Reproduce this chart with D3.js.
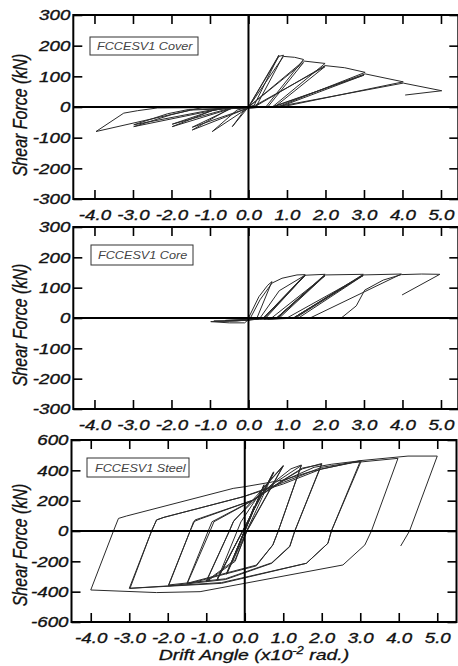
<!DOCTYPE html>
<html>
<head>
<meta charset="utf-8">
<script src="https://cdn.jsdelivr.net/npm/d3@7"></script>
<style>
  body { margin: 0; background: #fff; }
  svg { display: block; }
  text { font-family: "Liberation Sans", Arial, sans-serif; font-style: italic; }
</style>
</head>
<body>
<svg width="458" height="666"></svg>
<script>
// drift ticks and labels (x10^-2 rad.)
const driftTicks = [-4, -3, -2, -1, 0, 1, 2, 3, 4, 5];
const driftLabels = ["-4.0", "-3.0", "-2.0", "-1.0", "0.0", "1.0", "2.0", "3.0", "4.0", "5.0"];

// shear ticks (kN)
const shearTicksSmall = [-300, -200, -100, 0, 100, 200, 300];
const shearLabelsSmall = ["-300", "-200", "-100", "0", "100", "200", "300"];
const shearTicksLarge = [-600, -400, -200, 0, 200, 400, 600];
const shearLabelsLarge = ["-600", "-400", "-200", "0", "200", "400", "600"];

const panelNames = ["FCCESV1 Cover", "FCCESV1 Core", "FCCESV1 Steel"];

// [drift, shear], in loading order
const coverLoop = [
  [0, 0], [0.79, 169], [0.15, 6], [0, 0], [-0.42, -64], [-0.08, -6], [0, 0],
  [0.79, 165], [0.91, 169], [0.2, 2], [0, -2], [-0.94, -80], [-0.3, -10], [0, -1],
  [0.91, 165], [1.2, 162], [1.43, 155], [0.45, 0], [0, -3], [-1.46, -75], [-0.5, -6], [-0.1, -2], [0, 0],
  [1.43, 145], [0.5, 0], [0, -3], [-1.46, -66], [-0.45, -5], [0, 0],
  [1.43, 150], [1.99, 142], [0.62, 0], [0, -2], [-0.45, -5], [-1.98, -64], [-0.95, -12], [-0.6, -4], [0.1, 0],
  [1.99, 132], [0.68, 0], [0, -2], [-0.5, -5], [-1.98, -56], [-0.9, -10], [-0.55, -4], [0.15, 0],
  [1.99, 135], [2.5, 128], [3.03, 113], [0.75, 0], [-0.5, -2], [-0.8, -8], [-2.98, -64], [-2.0, -25], [-1.5, -10], [0.6, 0],
  [3.0, 104], [0.8, 0], [-0.6, -2], [-0.9, -8], [-2.98, -58], [-2.1, -22], [-1.55, -8], [0.65, 0],
  [3.03, 108], [4.02, 82], [0.85, 0], [-1.2, -2], [-1.5, -10], [-3.96, -80], [-3.24, -20], [-2.88, -12], [-2.36, -3], [-1.0, -2], [0.7, 0],
  [4.02, 78], [5.02, 53], [4.07, 39]
];

const coreLoop = [
  [0, 0], [0.27, 70], [0.5, 108], [0.61, 120], [0.22, 0], [0, -6], [-0.5, -10], [-0.98, -12], [-0.5, -16], [-0.1, -16], [0.05, 0],
  [0.3, 60], [0.61, 115], [0.87, 131], [1.26, 142], [1.47, 143], [0.39, 0], [0, -8], [-0.9, -10], [-0.3, -10], [0.39, 0],
  [1.47, 140], [0.42, 0], [0.1, -5], [0.3, 0], [0.8, 90], [1.47, 141], [0.45, 0], [0.2, -3], [0.39, 0],
  [1.47, 141], [1.99, 144], [0.73, 0], [0.1, -4], [-0.6, -8], [0.05, -4], [0.73, 0],
  [1.99, 141], [0.76, 0], [0.2, -3], [0.6, 0], [1.99, 140], [0.8, 0], [0.4, -3], [0.73, 0],
  [2.0, 142], [2.98, 144], [1.17, 0], [0.3, -3], [1.17, 0],
  [2.98, 141], [1.22, 0], [0.4, -3], [1.0, 0], [2.98, 140], [1.3, 0], [0.5, -3], [1.17, 0],
  [2.98, 142], [3.97, 145], [1.6, 0], [0.5, -3], [1.6, 0], [2.41, 0], [2.8, 40], [3.02, 92], [3.5, 125], [3.97, 143],
  [4.5, 145], [4.97, 144], [3.99, 76]
];

const steelLoop = [
  [0, 0], [0.25, 160], [-0.25, -150], [0.25, 165], [-0.25, -155],
  [0.5, 300], [-0.47, -279], [0.5, 305], [-0.47, -285],
  [0.75, 385], [-0.72, -320], [0.75, 390], [-0.72, -325],
  [-0.1, 60], [0.5, 290], [1.0, 432], [0.05, 0], [-0.25, -200], [-1.0, -335],
  [-0.4, 0], [-0.3, 60], [0.3, 230], [1.0, 428], [0.06, 0], [-0.25, -190], [-1.0, -330],
  [-0.4, 0], [-0.28, 70], [0.3, 215], [0.8, 330], [1.2, 410], [1.47, 435], [0.87, 0], [0.73, -92], [0.3, -230], [-1.5, -350],
  [-0.9, 0], [-0.8, 61], [0.2, 200], [0.8, 320], [1.47, 432], [0.87, 0], [0.73, -92], [0.3, -225], [-1.5, -345],
  [-0.95, 0], [-0.85, 61], [0.22, 204], [0.9, 320], [1.5, 410], [2.0, 445], [1.3, 0], [1.17, -103], [0.7, -213], [-0.5, -320], [-1.98, -362],
  [-1.42, 0], [-1.29, 73], [-1.15, 85], [0.22, 204], [0.9, 320], [1.5, 415], [2.0, 440], [1.3, 0], [1.17, -100], [0.7, -210], [-0.5, -315], [-1.98, -356],
  [-1.42, 0], [-1.33, 61], [-1.15, 80], [0.22, 204], [1.0, 330], [1.8, 420], [2.25, 440], [3.03, 464], [2.25, 0], [2.16, -81], [1.6, -213], [-0.6, -340], [-3.0, -378],
  [-2.42, 0], [-2.29, 73], [-2.1, 90], [-0.04, 226], [1.0, 320], [2.0, 420], [3.0, 460], [2.25, 0], [2.16, -81], [1.6, -213], [-0.6, -345], [-2.98, -378],
  [-2.42, 0], [-2.29, 73], [-2.1, 90], [-0.04, 226], [1.0, 310], [2.0, 410], [2.8, 450], [3.98, 479], [3.29, 0], [3.12, -92], [2.55, -224], [-1.16, -400], [-2.29, -406], [-4.0, -389],
  [-3.41, 0], [-3.28, 83], [-3.07, 99], [-0.3, 281], [0.0, 292], [1.0, 336], [1.7, 391], [3.0, 464], [4.24, 494], [5.0, 494], [4.28, 0], [4.05, -99]
];

const svg = d3.select("svg");
const tickStretch = 1.25;

// layout of the three stacked panels
const panels = [
  { name: panelNames[0], data: coverLoop, top: 15, bottom: 199, xRange: [73.3, 458.3], xDomain: [-4.55, 5.45],
    yDomain: [-300, 300], yTicks: shearTicksSmall, yLabels: shearLabelsSmall, titleY: 115,
    box: { x: 90, y: 37, w: 108, h: 18, tx: 97, ty: 50 } },
  { name: panelNames[1], data: coreLoop, top: 227, bottom: 409, xRange: [73.3, 458.3], xDomain: [-4.55, 5.45],
    yDomain: [-300, 300], yTicks: shearTicksSmall, yLabels: shearLabelsSmall, titleY: 325,
    box: { x: 91, y: 245, w: 102, h: 20, tx: 98, ty: 259 } },
  { name: panelNames[2], data: steelLoop, top: 440, bottom: 622, xRange: [71.5, 456.5], xDomain: [-4.5, 5.5],
    yDomain: [-600, 600], yTicks: shearTicksLarge, yLabels: shearLabelsLarge, titleY: 545,
    box: { x: 87, y: 458, w: 102, h: 19, tx: 95, ty: 471.5 } }
];

panels.forEach(drawPanel);

// x title under the last panel
const xt = svg.append("text")
  .attr("transform", "translate(254,660) scale(1.3,1)")
  .attr("text-anchor", "middle")
  .attr("font-size", 15)
  .attr("fill", "#111")
  .attr("stroke", "#111").attr("stroke-width", 0.3);
xt.append("tspan").text("Drift Angle (x10");
xt.append("tspan").attr("dy", -6).attr("font-size", 10).text("-2");
xt.append("tspan").attr("dy", 6).text(" rad.)");

function drawPanel(p) {
  let x = d3.scaleLinear().domain(p.xDomain).range(p.xRange);
  let y = d3.scaleLinear().domain(p.yDomain).range([p.bottom, p.top]);
  let g = svg.append("g");
  let left = p.xRange[0], right = p.xRange[1];

  //hysteresis curve
  g.append("path")
    .datum(p.data)
    .attr("fill", "none")
    .attr("stroke", "#2a2a2a")
    .attr("stroke-width", 1)
    .attr("stroke-linejoin", "round")
    .attr("d", d3.line().x(d => x(d[0])).y(d => y(d[1])));

  //zero lines
  g.append("line")
    .attr("x1", left).attr("x2", right)
    .attr("y1", y(0)).attr("y2", y(0))
    .attr("stroke", "#000").attr("stroke-width", 2);
  g.append("line")
    .attr("x1", x(0)).attr("x2", x(0))
    .attr("y1", p.top).attr("y2", p.bottom)
    .attr("stroke", "#000").attr("stroke-width", 2);

  //bottom axis with labels
  let bx = g.append("g")
    .attr("transform", `translate(0,${p.bottom})`)
    .call(d3.axisBottom(x).tickValues(driftTicks).tickSize(-9).tickPadding(10)
      .tickFormat((d, i) => driftLabels[i]));
  //top, left, right axes
  let tx = g.append("g")
    .attr("transform", `translate(0,${p.top})`)
    .call(d3.axisTop(x).tickValues(driftTicks).tickSize(-9).tickFormat(""));
  let ly = g.append("g")
    .attr("transform", `translate(${left},0)`)
    .call(d3.axisLeft(y).tickValues(p.yTicks).tickSize(-9).tickPadding(3)
      .tickFormat((d, i) => p.yLabels[i]));
  let ry = g.append("g")
    .attr("transform", `translate(${right},0)`)
    .call(d3.axisRight(y).tickValues(p.yTicks).tickSize(-9).tickFormat(""));

  [bx, tx, ly, ry].forEach(a => {
    a.select(".domain").remove();
    a.attr("font-size", 15);
    a.selectAll(".tick line").attr("stroke", "#000").attr("stroke-width", 1.6);
  });
  bx.selectAll("text").attr("fill", "#111").attr("stroke", "#111").attr("stroke-width", 0.35)
    .attr("transform", `scale(${tickStretch},1)`);
  ly.selectAll("text").attr("fill", "#111").attr("stroke", "#111").attr("stroke-width", 0.35)
    .attr("x", -3 / tickStretch)
    .attr("transform", `scale(${tickStretch},1)`);

  //frame
  g.append("rect")
    .attr("x", left).attr("y", p.top)
    .attr("width", right - left).attr("height", p.bottom - p.top)
    .attr("fill", "none").attr("stroke", "#000").attr("stroke-width", 2);

  //name box
  g.append("rect")
    .attr("x", p.box.x).attr("y", p.box.y)
    .attr("width", p.box.w).attr("height", p.box.h)
    .attr("fill", "#fff").attr("stroke", "#333").attr("stroke-width", 1);
  g.append("text")
    .attr("transform", `translate(${p.box.tx},${p.box.ty}) scale(1.15,1)`)
    .attr("font-size", 11)
    .attr("fill", "#444")
    .text(p.name);

  //y title
  g.append("text")
    .attr("transform", `translate(27,${p.titleY}) rotate(-90) scale(1,1.3)`)
    .attr("text-anchor", "middle")
    .attr("font-size", 16)
    .attr("fill", "#111")
    .attr("stroke", "#111").attr("stroke-width", 0.25)
    .text("Shear Force (kN)");
}
</script>
</body>
</html>
